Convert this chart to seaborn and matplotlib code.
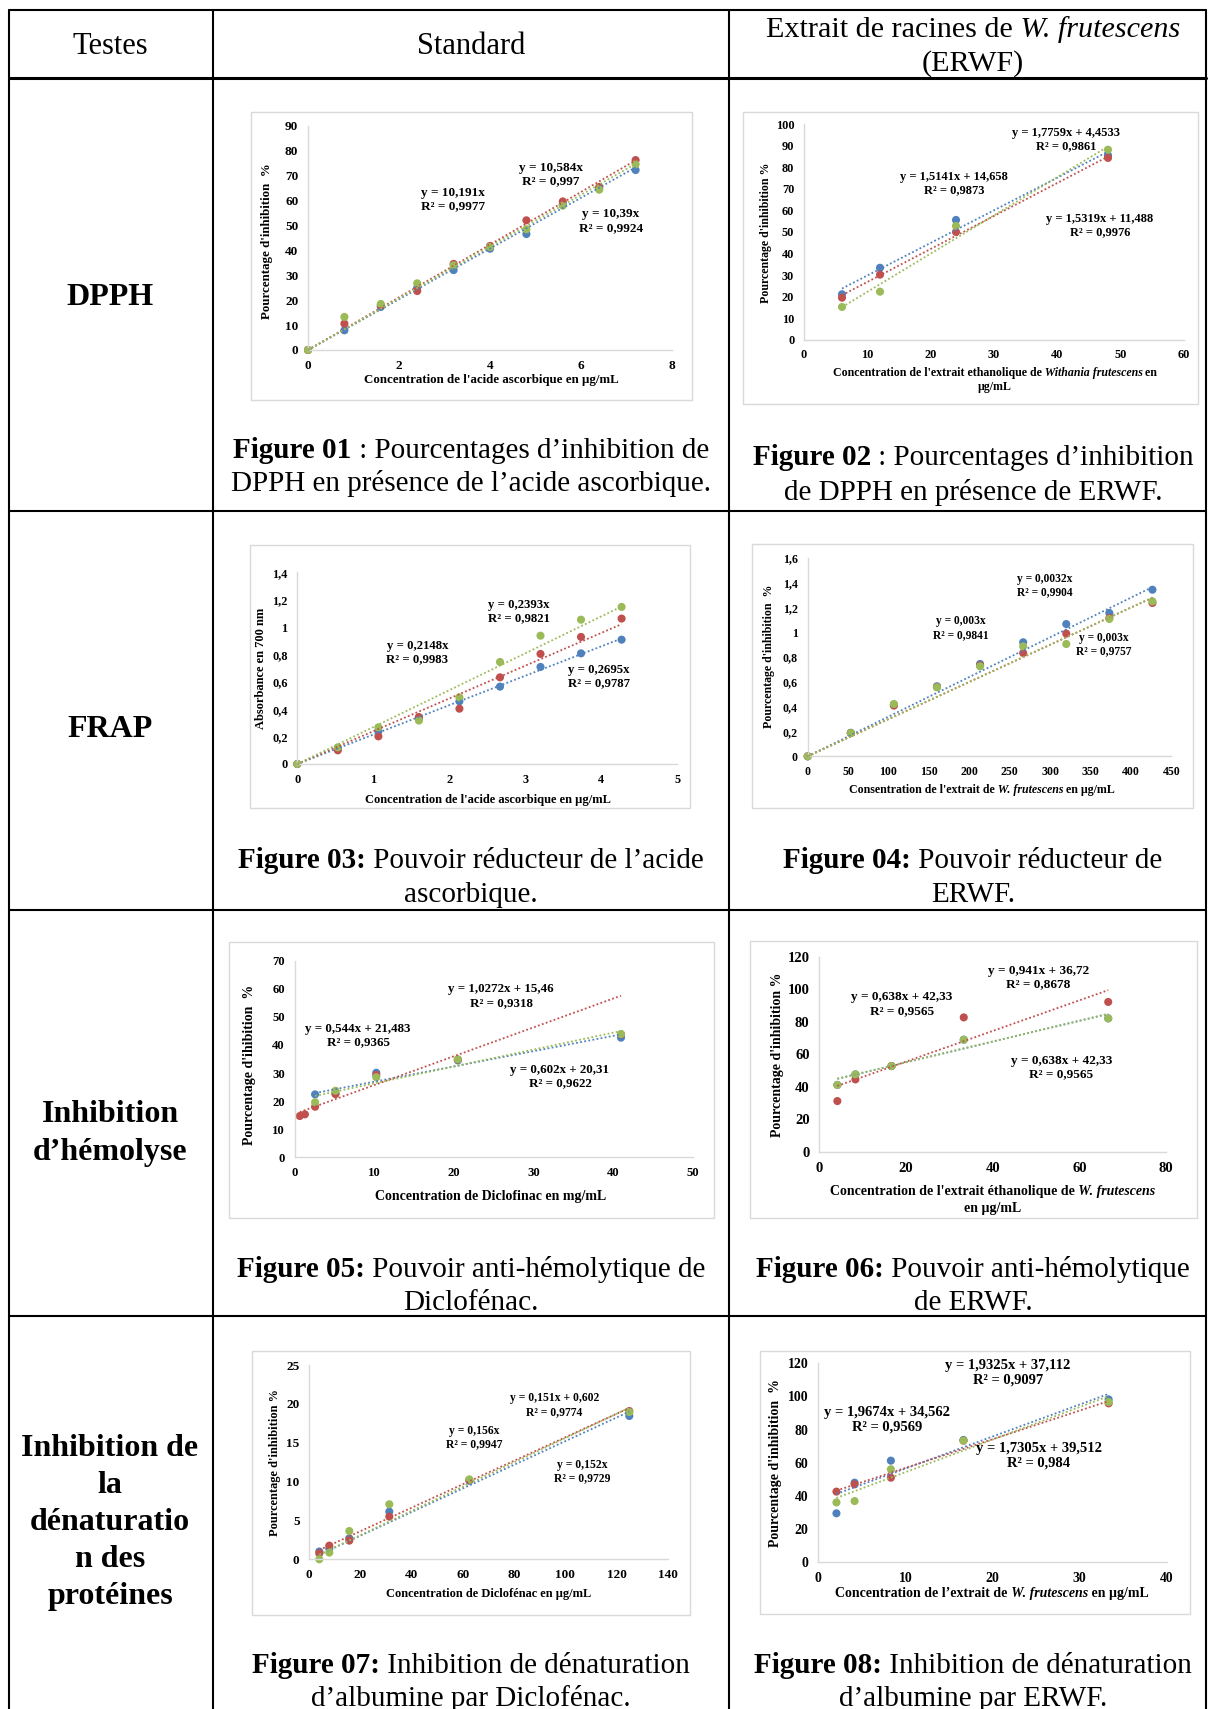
import numpy as np
import pandas as pd
import matplotlib
matplotlib.use("Agg")
import matplotlib.pyplot as plt
import seaborn as sns
from matplotlib.patches import Rectangle
from matplotlib.lines import Line2D
from matplotlib.ticker import FuncFormatter

# ------------------------------------------------------------------ data
SERIES = ["Essai 1", "Essai 2", "Essai 3"]
PALETTE = ["#4F81BD", "#C0504D", "#9BBB59"]

# Figure 01 : DPPH - acide ascorbique
fig01_x = [0, 0.8, 1.6, 2.4, 3.2, 4.0, 4.8, 5.6, 6.4, 7.2]
fig01_bleu = [0, 7.9, 17.3, 25.0, 32.1, 40.7, 46.6, 58.5, 64.8, 72.3]
fig01_rouge = [0, 10.6, 17.9, 23.7, 34.6, 41.8, 52.1, 59.7, 65.5, 76.3]
fig01_vert = [0, 13.3, 18.5, 26.8, 34.0, 41.4, 48.5, 58.0, 64.4, 74.6]
fig01_fit = [(10.191, 0, 0.9977), (10.584, 0, 0.997), (10.39, 0, 0.9924)]

# Figure 02 : DPPH - ERWF
fig02_x = [6, 12, 24, 48]
fig02_bleu = [21.1, 33.4, 55.6, 85.6]
fig02_rouge = [19.5, 30.2, 50.0, 84.4]
fig02_vert = [15.2, 22.3, 52.8, 88.2]
fig02_fit = [(1.5141, 14.658, 0.9873), (1.5319, 11.488, 0.9976), (1.7759, 4.4533, 0.9861)]

# Figure 03 : FRAP - acide ascorbique
fig03_x = [0, 0.533, 1.067, 1.6, 2.133, 2.667, 3.2, 3.733, 4.267]
fig03_bleu = [0, 0.11, 0.239, 0.334, 0.458, 0.565, 0.709, 0.808, 0.908]
fig03_rouge = [0, 0.10, 0.202, 0.343, 0.404, 0.633, 0.804, 0.928, 1.062]
fig03_vert = [0, 0.122, 0.268, 0.317, 0.487, 0.745, 0.937, 1.054, 1.147]
fig03_fit = [(0.2148, 0, 0.9983), (0.2393, 0, 0.9821), (0.2695, 0, 0.9787)]

# Figure 04 : FRAP - ERWF
fig04_x = [0, 53.33, 106.67, 160, 213.33, 266.67, 320, 373.33, 426.67]
fig04_bleu = [0, 0.19, 0.417, 0.565, 0.745, 0.92, 1.067, 1.156, 1.344]
fig04_rouge = [0, 0.188, 0.409, 0.559, 0.734, 0.834, 0.99, 1.116, 1.237]
fig04_vert = [0, 0.188, 0.422, 0.557, 0.726, 0.887, 0.906, 1.108, 1.25]
fig04_fit = [(0.0032, 0, 0.9904), (0.003, 0, 0.9841), (0.003, 0, 0.9757)]

# Figure 05 : hémolyse - Diclofénac
fig05_x_rouge = [0.64, 1.28, 2.56, 5.12, 10.24, 20.48, 40.96]
fig05_x = [2.56, 5.12, 10.24, 20.48, 40.96]
fig05_bleu = [22.4, 22.8, 30.1, 34.5, 42.6]
fig05_rouge = [14.7, 15.3, 18.0, 22.5, 29.3, 34.8, 43.8]
fig05_vert = [19.6, 23.7, 28.5, 34.9, 43.9]
fig05_fit = [(0.544, 21.483, 0.9365), (1.0272, 15.46, 0.9318), (0.602, 20.31, 0.9622)]

# Figure 06 : hémolyse - ERWF
fig06_x = [4.167, 8.333, 16.667, 33.333, 66.667]
fig06_bleu = [41.2, 47.7, 52.8, 69.0, 82.1]
fig06_rouge = [31.3, 44.6, 52.8, 82.7, 92.2]
fig06_vert = [41.2, 47.7, 52.8, 69.0, 82.1]
fig06_fit = [(0.638, 42.33, 0.9565), (0.941, 36.72, 0.8678), (0.638, 42.33, 0.9565)]

# Figure 07 : dénaturation - Diclofénac
fig07_x = [3.906, 7.8125, 15.625, 31.25, 62.5, 125]
fig07_bleu = [1.0, 1.37, 2.7, 6.13, 10.1, 18.44]
fig07_rouge = [0.77, 1.76, 2.4, 5.49, 10.2, 19.08]
fig07_vert = [0.0, 0.86, 3.64, 7.08, 10.29, 18.95]
fig07_fit = [(0.152, 0, 0.9729), (0.151, 0.602, 0.9774), (0.156, 0, 0.9947)]

# Figure 08 : dénaturation - ERWF
fig08_x = [2.083, 4.167, 8.333, 16.667, 33.333]
fig08_bleu = [29.4, 47.9, 61.2, 73.7, 98.2]
fig08_rouge = [42.5, 46.9, 50.9, 73.3, 95.8]
fig08_vert = [36.0, 36.8, 56.0, 73.3, 96.6]
fig08_fit = [(1.9325, 37.112, 0.9097), (1.7305, 39.512, 0.984), (1.9674, 34.562, 0.9569)]

IT = {"style": "italic"}
PANELS = [
    dict(x=[fig01_x, fig01_x, fig01_x], y=[fig01_bleu, fig01_rouge, fig01_vert], fit=fig01_fit,
         xlabel=[["Concentration de l'acide ascorbique en µg/mL"]],
         ylabel="Pourcentage d'inhibition  %"),
    dict(x=[fig02_x, fig02_x, fig02_x], y=[fig02_bleu, fig02_rouge, fig02_vert], fit=fig02_fit,
         xlabel=[["Concentration de l'extrait ethanolique de", (" Withania frutescens", IT), " en"], ["µg/mL"]],
         ylabel="Pourcentage d'inhibition %"),
    dict(x=[fig03_x, fig03_x, fig03_x], y=[fig03_bleu, fig03_rouge, fig03_vert], fit=fig03_fit,
         xlabel=[["Concentration de l'acide ascorbique en µg/mL"]],
         ylabel="Absorbance en 700 nm"),
    dict(x=[fig04_x, fig04_x, fig04_x], y=[fig04_bleu, fig04_rouge, fig04_vert], fit=fig04_fit,
         xlabel=[["Consentration de l'extrait de", (" W. frutescens", IT), " en µg/mL"]],
         ylabel="Pourcentage d'inhibition  %"),
    dict(x=[fig05_x, fig05_x_rouge, fig05_x], y=[fig05_bleu, fig05_rouge, fig05_vert], fit=fig05_fit,
         xlabel=[["Concentration de Diclofinac en mg/mL"]],
         ylabel="Pourcentage d'ihibition  %"),
    dict(x=[fig06_x, fig06_x, fig06_x], y=[fig06_bleu, fig06_rouge, fig06_vert], fit=fig06_fit,
         xlabel=[["Concentration de l'extrait éthanolique de", (" W. frutescens", IT)], ["en µg/mL"]],
         ylabel="Pourcentage d'inhibition %"),
    dict(x=[fig07_x, fig07_x, fig07_x], y=[fig07_bleu, fig07_rouge, fig07_vert], fit=fig07_fit,
         xlabel=[["Concentration de Diclofénac en µg/mL"]],
         ylabel="Pourcentage d'inhibition %"),
    dict(x=[fig08_x, fig08_x, fig08_x], y=[fig08_bleu, fig08_rouge, fig08_vert], fit=fig08_fit,
         xlabel=[["Concentration de l’extrait de", (" W. frutescens", IT), " en µg/mL"]],
         ylabel="Pourcentage d'inhibition  %"),
]

HEADERS = [["Testes"], ["Standard"]]
HEADER_ERWF = [["Extrait de racines de", (" W. frutescens", IT)], ["(ERWF)"]]
ROW_LABELS = [["DPPH"], ["FRAP"], ["Inhibition", "d’hémolyse"],
              ["Inhibition de", "la", "dénaturatio", "n des", "protéines"]]
CAPTIONS = [
    ("Figure 01", " : Pourcentages d’inhibition de", "DPPH en présence de l’acide ascorbique."),
    ("Figure 02", " : Pourcentages d’inhibition", "de DPPH en présence de ERWF."),
    ("Figure 03:", " Pouvoir réducteur de l’acide", "ascorbique."),
    ("Figure 04:", " Pouvoir réducteur de", "ERWF."),
    ("Figure 05:", " Pouvoir anti-hémolytique de", "Diclofénac."),
    ("Figure 06:", " Pouvoir anti-hémolytique", "de ERWF."),
    ("Figure 07:", " Inhibition de dénaturation", "d’albumine par Diclofénac."),
    ("Figure 08:", " Inhibition de dénaturation", "d’albumine par ERWF."),
]

# ------------------------------------------------------------------ layout (pixels, y from top)
W, H, DPI = 1208, 1709, 100
LAYOUT = [
    dict(box=(251, 112, 692, 400), axes=(308, 126, 672, 350), xt=(0, 8, 2), yt=(0, 90, 10),
         xl=(491, 379), yl=(267, 241), eq=[(3.18, 60.5), (5.34, 70.6), (6.66, 51.8)], fs=(9.5, 9.5, 9.3)),
    dict(box=(743, 112, 1198, 404), axes=(804, 124.3, 1184, 339.7), xt=(0, 60, 10), yt=(0, 100, 10),
         xl=(995, 372), yl=(766, 233), eq=[(23.7, 72.6), (46.7, 53.1), (41.4, 93.0)], fs=(8.8, 9.0, 8.6)),
    dict(box=(250, 545, 690, 808), axes=(297.3, 572.3, 677.3, 764), xt=(0, 5, 1), yt=(0, 1.4, 0.2),
         xl=(488, 799), yl=(261, 668), eq=[(1.58, 0.816), (2.92, 1.115), (3.97, 0.64)], fs=(8.8, 9.2, 9.0)),
    dict(box=(752, 544, 1193, 808), axes=(807.7, 558, 1171.3, 756.3), xt=(0, 450, 50), yt=(0, 1.6, 0.2),
         xl=(982, 789), yl=(769, 656), eq=[(292.9, 1.377), (189, 1.035), (367, 0.90)], fs=(8.6, 8.3, 8.6)),
    dict(box=(229, 942, 714, 1218), axes=(294.7, 960.7, 693, 1157.3), xt=(0, 50, 10), yt=(0, 70, 10),
         xl=(491, 1196), yl=(250, 1065), eq=[(7.95, 43.2), (25.9, 57.4), (33.3, 28.7)], fs=(9.1, 9.4, 10.0)),
    dict(box=(750, 941, 1197, 1218), axes=(819.3, 956.7, 1166, 1152), xt=(0, 80, 20), yt=(0, 120, 20),
         xl=(993, 1191), yl=(777, 1055), eq=[(19.0, 90.9), (50.5, 107.3), (55.9, 52.0)], fs=(10.5, 9.5, 10.0)),
    dict(box=(252, 1351, 690, 1615), axes=(309.3, 1365, 667.7, 1559.3), xt=(0, 140, 20), yt=(0, 25, 5),
         xl=(489, 1593), yl=(275, 1463), eq=[(106.8, 11.3), (95.7, 19.85), (64.5, 15.7)], fs=(9.5, 8.4, 8.9)),
    dict(box=(760, 1351, 1190, 1614), axes=(818.3, 1363.3, 1166.7, 1562), xt=(0, 40, 10), yt=(0, 120, 20),
         xl=(992, 1593), yl=(775, 1463), eq=[(21.8, 114.0), (25.3, 64.4), (7.85, 86.2)], fs=(9.9, 10.5, 10.0)),
]
CAPTION_POS = [(471, 449, 482), (973, 456, 491), (471, 859, 893), (973, 859, 893),
               (471, 1268, 1301), (973, 1268, 1301), (471, 1664, 1697), (973, 1664, 1697)]
ROW_POS = [(110, [295]), (110, [727]), (110, [1112, 1150]), (110, [1446, 1483, 1520, 1557, 1594])]
COL_X = [9, 213, 729, 1206]
ROW_Y = [10, 78, 511, 910, 1316]

# ------------------------------------------------------------------ style
sns.set_theme(style="white")
plt.rcParams["font.family"] = ["Liberation Serif", "DejaVu Serif"]
plt.rcParams["axes.unicode_minus"] = False

fig = plt.figure(figsize=(W / DPI, H / DPI), dpi=DPI, facecolor="white")
renderer = fig.canvas.get_renderer()


def fx(px):
    return px / W


def fy(py):
    return 1 - py / H


def put_line(xc, yc, parts, size, weight="normal"):
    """One line of mixed-style text centred on pixel (xc, yc)."""
    items, total = [], 0.0
    for p in parts:
        txt, opts = (p, {}) if isinstance(p, str) else p
        t = fig.text(0, 0, txt, fontsize=size, fontstyle=opts.get("style", "normal"),
                     fontweight=opts.get("weight", weight), ha="left", va="baseline", color="black")
        w = t.get_window_extent(renderer).width
        items.append((t, w))
        total += w
    x = xc - total / 2
    base = yc + 0.30 * size * DPI / 72
    for t, w in items:
        t.set_position((fx(x), fy(base)))
        x += w


def num(v):
    return f"{v:g}".replace(".", ",")


def eq_text(a, b, r2):
    s = f"y = {num(a)}x"
    if b:
        s += f" + {num(b)}"
    return s + f"\nR² = {num(r2)}"


# ------------------------------------------------------------------ table frame
for x in COL_X:
    fig.add_artist(Line2D([fx(x), fx(x)], [fy(ROW_Y[0]), fy(H)], color="black", lw=1.5,
                          transform=fig.transFigure))
for i, y in enumerate(ROW_Y):
    fig.add_artist(Line2D([fx(COL_X[0]), fx(COL_X[-1])], [fy(y), fy(y)], color="black",
                          lw=2.2 if i == 1 else 1.5, transform=fig.transFigure))

put_line(110, 45, HEADERS[0], 22)
put_line(471, 45, HEADERS[1], 22)
put_line(973, 28, HEADER_ERWF[0], 21.7)
put_line(973, 62, HEADER_ERWF[1], 21.7)

for (xc, ys), lines in zip(ROW_POS, ROW_LABELS):
    for yc, line in zip(ys, lines):
        put_line(xc, yc, [line], 23, weight="bold")

for (xc, y1, y2), (bold, rest, line2) in zip(CAPTION_POS, CAPTIONS):
    put_line(xc, y1, [(bold, {"weight": "bold"}), rest], 21)
    put_line(xc, y2, [line2], 21)

# ------------------------------------------------------------------ charts
for panel, lay in zip(PANELS, LAYOUT):
    bx0, by0, bx1, by1 = lay["box"]
    fig.add_artist(Rectangle((fx(bx0), fy(by1)), (bx1 - bx0) / W, (by1 - by0) / H, fill=False,
                             ec="#D9D9D9", lw=1.0, transform=fig.transFigure))
    ax0, ayt, ax1, ayb = lay["axes"]
    ax = fig.add_axes([fx(ax0), fy(ayb), (ax1 - ax0) / W, (ayb - ayt) / H])
    ax.set_facecolor("none")
    tick_fs, eq_fs, title_fs = lay["fs"]

    frames = []
    for name, xs, ys in zip(SERIES, panel["x"], panel["y"]):
        frames.append(pd.DataFrame({"x": xs, "y": ys, "serie": name}))
    df = pd.concat(frames, ignore_index=True)
    sns.scatterplot(data=df, x="x", y="y", hue="serie", hue_order=SERIES, palette=PALETTE,
                    s=34, linewidth=0, legend=False, ax=ax, clip_on=False, zorder=2)

    for k, (name, color, (a, b, r2)) in enumerate(zip(SERIES, PALETTE, panel["fit"])):
        xs = panel["x"][k]
        xx = np.array([min(xs), max(xs)])
        ax.plot(xx, a * xx + b, color=color, lw=1.3, linestyle=(0, (1.0, 1.3)), zorder=3,
                clip_on=False)
        ex, ey = lay["eq"][k]
        ax.text(ex, ey, eq_text(a, b, r2), ha="center", va="center", fontsize=eq_fs,
                fontweight="bold", linespacing=1.15, color="black", zorder=4)

    x0, x1, xs_ = lay["xt"]
    y0, y1, ys_ = lay["yt"]
    ax.set_xlim(x0, x1)
    ax.set_ylim(y0, y1)
    ax.set_xticks(np.round(np.arange(x0, x1 + xs_ / 2, xs_), 6))
    ax.set_yticks(np.round(np.arange(y0, y1 + ys_ / 2, ys_), 6))
    fmt = FuncFormatter(lambda v, p: num(round(v, 6)))
    ax.xaxis.set_major_formatter(fmt)
    ax.yaxis.set_major_formatter(fmt)
    ax.tick_params(axis="both", length=0, labelsize=tick_fs, colors="black")
    ax.tick_params(axis="x", pad=7)
    ax.tick_params(axis="y", pad=7)
    for lbl in ax.get_xticklabels() + ax.get_yticklabels():
        lbl.set_fontweight("bold")
    ax.set_xlabel("")
    ax.set_ylabel("")
    for side in ("top", "right"):
        ax.spines[side].set_visible(False)
    for side in ("left", "bottom"):
        ax.spines[side].set_color("#D9D9D9")
        ax.spines[side].set_linewidth(1.0)

    xc, yc = lay["xl"]
    for i, line in enumerate(panel["xlabel"]):
        put_line(xc, yc + i * title_fs * 1.7, line, title_fs, weight="bold")
    ylx, yly = lay["yl"]
    fig.text(fx(ylx), fy(yly), panel["ylabel"], rotation=90, ha="center", va="center",
             fontsize=title_fs, fontweight="bold", color="black")

fig.savefig("out.png", dpi=DPI, facecolor="white")
